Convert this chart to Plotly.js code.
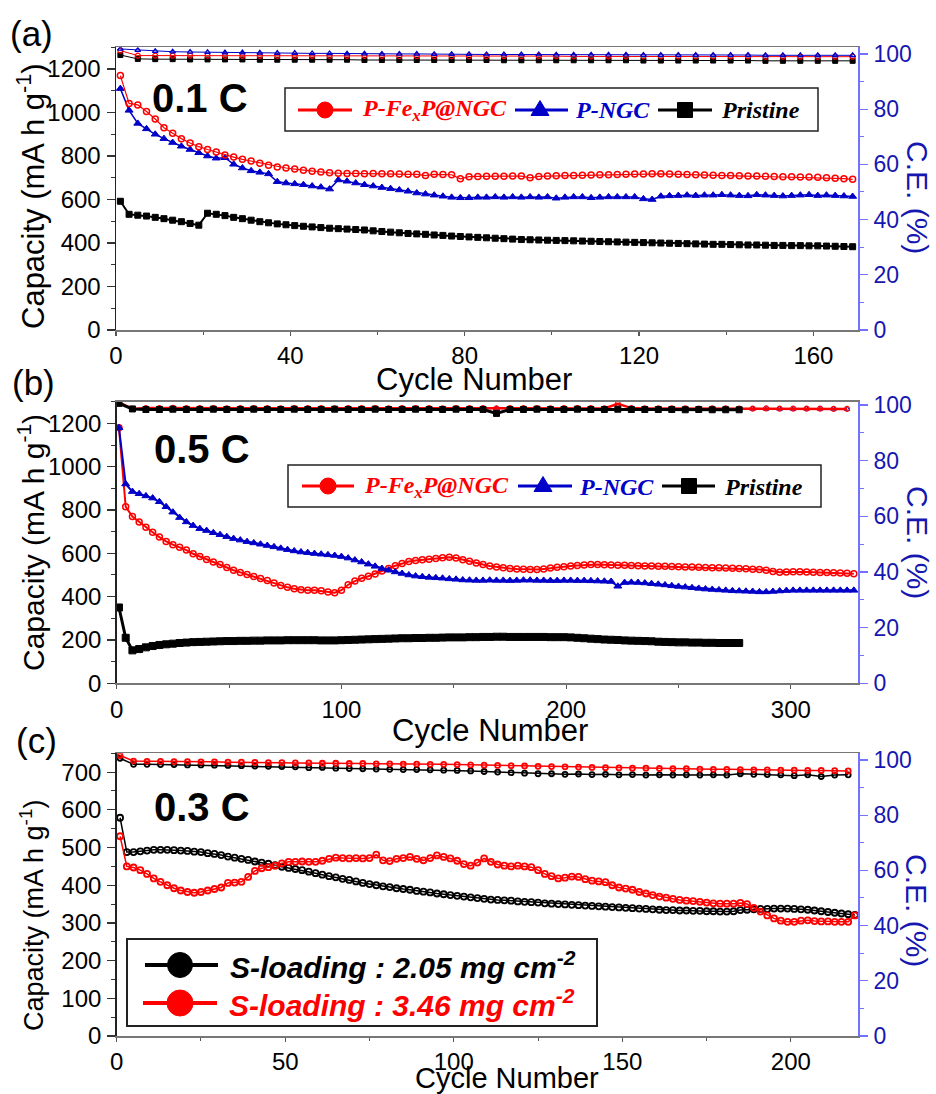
<!DOCTYPE html>
<html>
<head>
<meta charset="utf-8">
<script src="https://cdn.plot.ly/plotly-3.0.1.min.js"></script>
<style>
html,body{margin:0;padding:0;background:#ffffff;}
#chart{width:936px;height:1094px;}
</style>
</head>
<body>
<div id="chart"></div>
<script>
// ===================== DATA =====================
// Panel (a) 0.1 C : capacity at cycles 1,3,5,...,169
const capA_FexP = [1170,1042,1035,1005,970,930,905,880,860,843,
  830,818,805,795,785,777,767,758,750,745,
  740,735,730,726,723,721,720,720,719,720,
  718,718,717,716,716,710,716,715,714,695,
  705,706,707,707,707,708,708,700,706,708,
  709,710,711,712,713,714,714,715,716,717,
  717,718,718,717,716,715,714,713,712,711,
  710,709,708,708,707,706,705,705,704,703,
  702,700,698,696,693];
const capA_NGC = [1110,1010,950,925,900,880,862,845,830,815,
  800,790,792,762,745,732,725,718,682,676,
  672,668,662,657,648,690,684,676,668,662,
  655,650,644,638,630,625,620,615,610,608,
  608,610,610,612,610,612,610,612,610,612,
  606,610,612,612,608,610,612,612,612,612,
  603,600,615,617,618,620,618,620,620,622,
  620,618,617,622,620,618,616,618,620,622,
  618,620,618,616,614];
const capA_Pristine = [592,532,528,524,518,512,505,498,490,482,
  537,532,526,518,512,505,498,493,488,484,
  480,477,474,471,468,466,464,462,460,456,
  453,450,447,444,442,440,437,435,432,430,
  428,426,424,422,420,418,416,415,414,413,
  412,411,410,409,408,407,406,405,404,403,
  402,401,400,399,398,397,396,395,394,394,
  393,392,391,391,390,389,389,388,388,387,
  387,386,385,384,383];
// Panel (a) coulombic efficiency at cycles 1,5,9,...,169
const ceA_FexP = [101.2,99.4,99.4,99.4,99.4,99.4,99.3,99.3,99.3,99.3,
  99.3,99.3,99.3,99.3,99.3,99.3,99.2,99.2,99.2,99.2,
  99.2,99.2,99.2,99.2,99.2,99.2,99.1,99.1,99.1,99.1,
  99.1,99.1,99.1,99.1,99.1,99.1,99.1,99.0,99.0,99.0,
  99.0,99.0,99.0];
const ceA_NGC = [101.8,101.4,101.0,100.8,100.7,100.6,100.5,100.5,100.4,100.3,
  100.3,100.2,100.2,100.1,100.1,100.0,100.0,100.0,99.9,99.9,
  99.9,99.8,99.8,99.8,99.8,99.7,99.7,99.7,99.7,99.7,
  99.6,99.6,99.6,99.6,99.6,99.6,99.6,99.5,99.5,99.5,
  99.5,99.5,99.5];
const ceA_Pristine = [99.6,98.2,98.1,98.1,98.0,98.0,98.0,98.0,97.9,97.9,
  97.9,97.9,97.9,97.9,97.8,97.8,97.8,97.8,97.8,97.8,
  97.8,97.8,97.7,97.7,97.7,97.7,97.7,97.7,97.7,97.7,
  97.6,97.6,97.6,97.6,97.6,97.6,97.6,97.5,97.5,97.5,
  97.5,97.5,97.5];

// Panel (b) 0.5 C : capacity at cycles 1,4,7,...,328 (Pristine to 277)
const capB_FexP = [1180,815,770,745,720,697,675,655,640,628,
  615,598,585,572,560,548,535,522,512,502,
  493,484,475,463,452,443,436,432,430,430,
  427,422,418,430,455,472,485,494,505,518,
  530,543,553,562,567,570,573,576,580,582,
  578,570,563,555,548,542,537,533,530,528,
  526,525,525,528,532,536,538,541,544,546,
  548,548,547,546,545,545,544,543,542,541,
  540,540,539,538,537,537,536,535,534,533,
  532,531,530,529,527,525,522,516,513,514,
  515,515,514,513,512,511,510,509,508,506];
const capB_NGC = [1180,920,885,875,865,855,838,815,790,765,
  745,728,714,705,695,686,677,668,661,654,
  648,642,636,630,623,617,611,606,603,599,
  596,593,590,585,578,569,560,550,540,530,
  522,514,507,500,495,492,489,487,485,482,
  480,477,476,475,475,476,475,475,474,475,
  476,476,475,475,474,474,475,475,474,474,
  473,472,471,470,448,465,466,465,463,460,
  457,454,450,447,444,441,438,435,433,431,
  429,427,426,425,424,422,422,424,426,428,
  429,429,429,429,429,429,429,429,429,429];
const capB_Pristine = [350,210,152,158,166,172,177,180,183,186,
  188,190,191,192,193,194,195,195,196,196,
  197,197,198,198,198,199,199,199,199,199,
  198,198,198,199,200,201,202,203,204,205,
  206,207,208,208,209,209,210,210,211,212,
  212,212,213,213,214,214,215,215,214,214,
  214,214,214,214,213,213,213,212,210,208,
  206,204,202,201,200,198,197,196,195,194,
  192,191,190,189,189,188,188,187,187,186,
  186,186,186];
// Panel (b) coulombic efficiency at cycles 1,7,13,...,325 (Pristine to 277)
const ceB_FexP = [101.0,98.6,98.9,98.9,99.0,98.9,98.9,98.9,98.8,98.9,
  98.9,98.9,98.8,98.9,98.9,98.9,98.8,98.9,98.9,98.9,
  98.8,98.9,98.9,98.9,98.8,98.9,98.9,98.9,98.8,98.9,
  98.9,98.9,98.8,98.9,98.9,98.9,98.8,100.4,98.9,98.8,
  98.8,98.8,98.8,98.7,98.8,98.8,98.7,98.7,98.8,98.7,
  98.7,98.7,98.7,98.6,98.6];
const ceB_NGC = [100.8,98.7,98.8,98.8,98.8,98.8,98.8,98.8,98.8,98.8,
  98.8,98.8,98.8,98.8,98.8,98.8,98.8,98.8,98.8,98.8,
  98.7,98.7,98.7,98.7,98.7,98.7,98.7,98.7,98.7,98.7,
  98.7,98.7,98.7,98.7,98.7,98.7,98.7,98.7,98.7,98.7,
  98.6,98.6,98.6,98.6,98.6,98.6,98.6,98.6,98.6,98.6,
  98.6,98.6,98.6,98.6,98.6];
const ceB_Pristine = [100.6,98.6,98.4,98.4,98.5,98.4,98.4,98.5,98.4,98.4,
  98.5,98.4,98.4,98.5,98.4,98.4,98.5,98.4,98.4,98.5,
  98.4,98.4,98.5,98.4,98.4,98.5,98.4,98.4,97.0,98.4,
  98.4,98.5,98.4,98.4,98.5,98.4,98.4,98.5,98.4,98.4,
  98.4,98.4,98.3,98.4,98.3,98.3,98.3];

// Panel (c) 0.3 C : capacity at cycles 1,3,5,...,219
const capC_205 = [579,488,488,490,492,494,494,494,493,492,
  491,489,488,485,483,480,476,473,470,467,
  463,460,457,453,449,446,443,440,436,432,
  428,424,421,417,414,410,406,403,400,397,
  395,392,390,388,385,383,381,378,376,374,
  372,370,368,366,364,362,361,360,359,357,
  356,355,354,352,351,350,349,348,347,346,
  345,344,343,342,341,340,339,338,337,336,
  335,334,334,333,333,332,332,331,331,330,
  330,331,334,335,336,337,337,338,338,338,
  337,336,335,333,331,329,327,325,323,321];
const capC_346 = [530,450,447,440,430,418,409,400,392,386,
  382,380,382,386,390,394,406,407,409,422,
  438,445,448,452,458,462,462,463,462,462,
  465,470,473,472,471,472,471,472,481,466,
  464,470,472,475,470,466,472,479,475,471,
  465,456,452,460,471,462,455,452,450,452,
  450,448,440,430,424,418,420,423,422,416,
  412,410,408,400,394,391,388,382,378,374,
  370,367,364,361,359,358,356,354,352,351,
  351,351,353,350,340,330,320,312,306,303,
  303,306,307,305,304,304,303,303,303,320];
// Panel (c) coulombic efficiency at cycles 1,5,9,...,217
const ceC_205 = [100.6,98.4,98.4,98.3,98.3,98.2,98.2,98.1,98.0,97.9,
  97.8,97.7,97.6,97.5,97.2,97.3,97.0,96.9,96.8,96.7,
  96.6,96.5,96.5,96.4,96.3,96.2,96.0,95.8,95.6,95.4,
  95.2,95.0,95.0,94.8,94.9,94.7,94.8,94.6,94.7,94.5,
  94.6,94.5,94.6,94.5,94.6,94.5,95.0,94.8,94.7,94.6,
  94.3,94.6,94.0,94.5,94.6];
const ceC_346 = [101.6,99.6,99.5,99.5,99.4,99.4,99.3,99.3,99.2,99.2,
  99.1,99.0,99.0,98.9,98.9,98.8,98.8,98.7,98.7,98.6,
  98.6,98.5,98.5,98.4,98.4,98.3,98.2,98.1,98.0,97.9,
  97.8,97.7,97.6,97.5,97.4,97.3,97.2,97.1,97.0,97.0,
  96.9,96.8,96.8,96.7,96.6,96.6,96.5,96.4,96.4,96.3,
  96.3,96.2,96.2,96.1,96.0];

// Cycle sampling of the arrays above (first cycle, cycle step)
const CYC_A = {first: 1, capStep: 2, ceStep: 4};
const CYC_B = {first: 1, capStep: 3, ceStep: 6};
const CYC_C = {first: 1, capStep: 2, ceStep: 4};

// Labels
const legendA = ['P-Fe<sub>x</sub>P@NGC', 'P-NGC', 'Pristine'];
const legendC = ['S-loading : 2.05 mg cm<sup>-2</sup>', 'S-loading : 3.46 mg cm<sup>-2</sup>'];
const rates = ['0.1 C', '0.5 C', '0.3 C'];
const panelTags = ['(a)', '(b)', '(c)'];
const xTitle = 'Cycle Number';
const yTitle = 'Capacity (mA h g<sup>-1</sup>)';
const y2Title = 'C.E. (%)';

// ===================== STYLE / LAYOUT =====================
const W = 936, H = 1094;
const px = v => v / W;
const py = v => 1 - v / H;
const RED = '#ff0000', BLUE = '#0000c8', BLK = '#000000';
const AXBLUE = '#7272ff', TXTBLUE = '#1616b0';
const FONT = 'Arial, "Liberation Sans", sans-serif';
const SERIF = '"Times New Roman", "Liberation Serif", serif';

function tr(y, cyc, step, xa, ya, sym, color, size, lw, mlw) {
  return {
    type: 'scatter', mode: 'lines+markers', x0: cyc.first, dx: step, y: y,
    xaxis: xa, yaxis: ya, showlegend: false, hoverinfo: 'skip',
    line: {color: color, width: lw},
    marker: {symbol: sym, color: color, size: size, line: {color: color, width: mlw}}
  };
}

const data = [
  // (a)
  tr(ceA_Pristine, CYC_A, CYC_A.ceStep, 'x', 'y2', 'square', BLK, 5, 1, 1),
  tr(ceA_FexP, CYC_A, CYC_A.ceStep, 'x', 'y2', 'circle-open', RED, 5, 1, 1.2),
  tr(ceA_NGC, CYC_A, CYC_A.ceStep, 'x', 'y2', 'triangle-up-open', BLUE, 5, 1, 1.2),
  tr(capA_Pristine, CYC_A, CYC_A.capStep, 'x', 'y', 'square', BLK, 6, 2, 1),
  tr(capA_NGC, CYC_A, CYC_A.capStep, 'x', 'y', 'triangle-up', BLUE, 7, 1.5, 1),
  tr(capA_FexP, CYC_A, CYC_A.capStep, 'x', 'y', 'circle-open', RED, 6, 1.2, 1.5),
  // (b)
  tr(ceB_NGC, CYC_B, CYC_B.ceStep, 'x2', 'y4', 'triangle-up-open', BLUE, 5, 1, 1),
  tr(ceB_FexP, CYC_B, CYC_B.ceStep, 'x2', 'y4', 'circle-open', RED, 5, 2.5, 1.2),
  tr(ceB_Pristine, CYC_B, CYC_B.ceStep, 'x2', 'y4', 'square', BLK, 6, 3, 1),
  tr(capB_Pristine, CYC_B, CYC_B.capStep, 'x2', 'y3', 'square', BLK, 7, 3, 1),
  tr(capB_FexP, CYC_B, CYC_B.capStep, 'x2', 'y3', 'circle-open', RED, 6, 2, 1.5),
  tr(capB_NGC, CYC_B, CYC_B.capStep, 'x2', 'y3', 'triangle-up', BLUE, 7, 2, 1),
  // (c)
  tr(ceC_205, CYC_C, CYC_C.ceStep, 'x3', 'y6', 'circle-open', BLK, 5, 1.5, 1.8),
  tr(ceC_346, CYC_C, CYC_C.ceStep, 'x3', 'y6', 'circle-open', RED, 5, 1.5, 1.8),
  tr(capC_205, CYC_C, CYC_C.capStep, 'x3', 'y5', 'circle-open', BLK, 6, 1.5, 1.8),
  tr(capC_346, CYC_C, CYC_C.capStep, 'x3', 'y5', 'circle-open', RED, 6, 1.5, 1.8)
];

const tickFont = {family: FONT, size: 24, color: '#000'};
function xAx(dom, anchor, range, dtick, minor) {
  return {domain: dom, anchor: anchor, range: range, tick0: 0, dtick: dtick,
    ticks: 'outside', ticklen: 4, tickwidth: 1.2, tickcolor: '#555',
    minor: {dtick: minor, tick0: 0, ticks: 'outside', ticklen: 3, tickwidth: 1, tickcolor: '#555', showgrid: false},
    showline: true, linecolor: '#777', linewidth: 1.5, mirror: true,
    showgrid: false, zeroline: false, tickfont: tickFont, fixedrange: true};
}
function yAx(dom, anchor, range, dtick, minor) {
  return {domain: dom, anchor: anchor, range: range, tick0: 0, dtick: dtick,
    ticks: 'outside', ticklen: 8, tickwidth: 1.2, tickcolor: '#333',
    minor: {dtick: minor, tick0: 0, ticks: 'outside', ticklen: 4, tickwidth: 1, tickcolor: '#333', showgrid: false},
    showline: true, linecolor: '#222', linewidth: 1.5,
    showgrid: false, zeroline: false, tickfont: tickFont, ticklabelstandoff: 1, fixedrange: true};
}
function y2Ax(over, anchor, range) {
  return {overlaying: over, anchor: anchor, side: 'right', range: range, tick0: 0, dtick: 20,
    ticks: 'outside', ticklen: 8, tickwidth: 1.2, tickcolor: AXBLUE,
    minor: {dtick: 10, tick0: 0, ticks: 'outside', ticklen: 4, tickwidth: 1, tickcolor: AXBLUE, showgrid: false},
    showline: true, linecolor: AXBLUE, linewidth: 1.5,
    showgrid: false, zeroline: false, tickfont: {family: FONT, size: 23, color: TXTBLUE},
    ticklabelstandoff: 1, fixedrange: true};
}

function ann(text, x, y, size, extra) {
  return Object.assign({text: text, x: px(x), y: py(y), xref: 'paper', yref: 'paper',
    showarrow: false, xanchor: 'center', yanchor: 'middle',
    font: {family: FONT, size: size, color: '#000'}}, extra || {});
}
const legFont = (c) => ({family: SERIF, size: 24, color: c, weight: 'bold', style: 'italic'});
const legCFont = (c) => ({family: FONT, size: 30, color: c, weight: 'bold', style: 'italic'});
const rateFont = {family: FONT, size: 40, color: '#000', weight: 'bold'};
const ceFont = {family: FONT, size: 30, color: TXTBLUE};

const annotations = [
  ann(panelTags[0], 8, 34, 35, {xanchor: 'left'}),
  ann(panelTags[1], 10, 382, 35, {xanchor: 'left'}),
  ann(panelTags[2], 14, 740, 35, {xanchor: 'left'}),
  ann(rates[0], 200, 98, 40, {font: rateFont}),
  ann(rates[1], 202, 449, 40, {font: rateFont}),
  ann(rates[2], 202, 807, 40, {font: rateFont}),
  ann(xTitle, 474, 379, 31),
  ann(xTitle, 490, 730, 31),
  ann(xTitle, 507, 1078, 29),
  ann(yTitle, 31, 196, 31, {textangle: -90}),
  ann(yTitle, 31, 543, 30, {textangle: -90}),
  ann(yTitle, 32, 916, 27, {textangle: -90}),
  ann(y2Title, 917, 197, 30, {textangle: 90, font: ceFont}),
  ann(y2Title, 918, 542, 30, {textangle: 90, font: ceFont}),
  ann(y2Title, 917, 910, 30, {textangle: 90, font: ceFont}),
  // legend (a)
  ann(legendA[0], 360, 110, 24, {xanchor: 'left', font: legFont(RED)}),
  ann(legendA[1], 573, 110, 24, {xanchor: 'left', font: legFont(BLUE)}),
  ann(legendA[2], 719, 110, 24, {xanchor: 'left', font: legFont(BLK)}),
  // legend (b)
  ann(legendA[0], 362, 487, 24, {xanchor: 'left', font: legFont(RED)}),
  ann(legendA[1], 577, 487, 24, {xanchor: 'left', font: legFont(BLUE)}),
  ann(legendA[2], 722, 487, 24, {xanchor: 'left', font: legFont(BLK)}),
  // legend (c)
  ann(legendC[0], 228, 965, 30, {xanchor: 'left', font: legCFont(BLK)}),
  ann(legendC[1], 227, 1003, 30, {xanchor: 'left', font: legCFont(RED)})
];

function box(x0, y0, x1, y1, w) {
  return {type: 'rect', xref: 'paper', yref: 'paper', x0: px(x0), x1: px(x1), y0: py(y1), y1: py(y0),
    line: {color: '#222', width: w}, fillcolor: 'rgba(0,0,0,0)', layer: 'above'};
}
function seg(x0, x1, y, c, w) {
  return {type: 'line', xref: 'paper', yref: 'paper', x0: px(x0), x1: px(x1), y0: py(y), y1: py(y),
    line: {color: c, width: w}, layer: 'above'};
}
function dot(cx, cy, r, c) {
  return {type: 'circle', xref: 'paper', yref: 'paper', x0: px(cx - r), x1: px(cx + r), y0: py(cy + r), y1: py(cy - r),
    line: {color: c, width: 1}, fillcolor: c, layer: 'above'};
}
function sq(cx, cy, s, c) {
  return {type: 'rect', xref: 'paper', yref: 'paper', x0: px(cx - s / 2), x1: px(cx + s / 2), y0: py(cy + s / 2), y1: py(cy - s / 2),
    line: {color: c, width: 1}, fillcolor: c, layer: 'above'};
}
function tri(cx, cy, w, h, c) {
  const p = 'M' + px(cx - w / 2) + ',' + py(cy + h / 2) + ' L' + px(cx + w / 2) + ',' + py(cy + h / 2) +
    ' L' + px(cx) + ',' + py(cy - h / 2) + ' Z';
  return {type: 'path', xref: 'paper', yref: 'paper', path: p, line: {color: c, width: 1}, fillcolor: c, layer: 'above'};
}

const shapes = [
  // legend (a)
  box(285, 88, 818, 131, 1.5),
  seg(298, 352, 110, RED, 3), dot(325, 110, 8, RED),
  seg(515, 568, 110, BLUE, 3), tri(540, 108, 18, 15, BLUE),
  seg(658, 712, 110, BLK, 3), sq(685, 110, 15, BLK),
  // legend (b)
  box(288, 465, 821, 507, 1.5),
  seg(302, 354, 486, RED, 3), dot(328, 486, 8, RED),
  seg(518, 572, 486, BLUE, 3), tri(543, 484, 18, 15, BLUE),
  seg(662, 715, 486, BLK, 3), sq(689, 486, 15, BLK),
  // legend (c)
  box(127, 939, 597, 1026, 2),
  seg(145, 218, 965, BLK, 4), dot(180, 965, 12.5, BLK),
  seg(143, 217, 1003, RED, 4), dot(180, 1003, 13, RED)
];

const layout = {
  width: W, height: H,
  margin: {l: 0, r: 0, t: 0, b: 0, pad: 0},
  paper_bgcolor: '#ffffff', plot_bgcolor: '#ffffff',
  showlegend: false,
  font: {family: FONT, color: '#000'},
  xaxis: xAx([px(116), px(858.3)], 'y', [0, 170.3], 40, 20),
  yaxis: yAx([py(330), py(47.3)], 'x', [0, 1300], 200, 100),
  yaxis2: y2Ax('y', 'x', [0, 102.4]),
  xaxis2: xAx([px(116.7), px(858.3)], 'y3', [0, 330], 100, 50),
  yaxis3: yAx([py(683.3), py(401.7)], 'x2', [0, 1300], 200, 100),
  yaxis4: y2Ax('y3', 'x2', [0, 101.2]),
  xaxis3: xAx([px(116.7), px(858.3)], 'y5', [0, 220], 50, 25),
  yaxis5: yAx([py(1036), py(753.3)], 'x3', [0, 750], 100, 50),
  yaxis6: y2Ax('y5', 'x3', [0, 102.4]),
  annotations: annotations,
  shapes: shapes
};

Plotly.newPlot('chart', data, layout, {displayModeBar: false, staticPlot: true});
</script>
</body>
</html>
